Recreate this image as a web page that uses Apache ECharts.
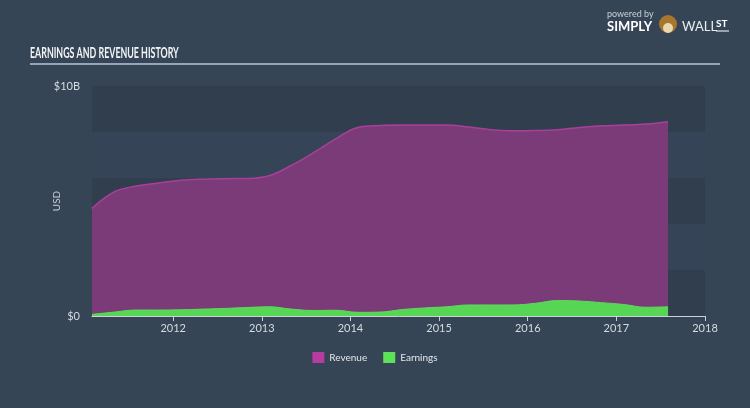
<!DOCTYPE html>
<html>
<head>
<meta charset="utf-8">
<script src="https://cdn.jsdelivr.net/npm/echarts@6/dist/echarts.min.js"></script>
<style>
html,body{margin:0;padding:0;background:#354556;}
#c{width:750px;height:408px;}
</style>
</head>
<body>
<div id="c"></div>
<script>
// Period ends (quarterly), values in USD billions
const periods = ['2011-01','2011-04','2011-07','2011-10','2012-01','2012-04','2012-07','2012-10',
  '2013-01','2013-04','2013-07','2013-10','2014-01','2014-04','2014-07','2014-10',
  '2015-01','2015-04','2015-07','2015-10','2016-01','2016-04','2016-07','2016-10',
  '2017-01','2017-04','2017-07'];
const revenue = [4.68,5.4,5.65,5.78,5.9,5.95,5.97,5.98,
  6.1,6.55,7.1,7.7,8.2,8.28,8.3,8.3,
  8.3,8.22,8.1,8.05,8.06,8.1,8.2,8.27,
  8.3,8.35,8.45];
const earnings = [0.07,0.17,0.26,0.26,0.27,0.3,0.33,0.37,
  0.4,0.3,0.24,0.25,0.16,0.17,0.28,0.35,
  0.4,0.48,0.48,0.48,0.55,0.67,0.65,0.58,
  0.5,0.38,0.4];
const yearTicks = [2012,2013,2014,2015,2016,2017,2018];
const yTickLabels = {0:'$0', 10:'$10B'};
const seriesNames = ['Revenue','Earnings'];

function toYear(p){const [y,m]=p.split('-').map(Number);return y+m/12;}
const xs = periods.map(toYear);
const revData = xs.map((x,i)=>[x,revenue[i]]);
const earnData = xs.map((x,i)=>[x,earnings[i]]);

const chart = echarts.init(document.getElementById('c'), null, {renderer:'canvas'});
chart.setOption({
  backgroundColor:'#354556',
  animation:false,
  textStyle:{fontFamily:'Lato, "Open Sans", sans-serif'},
  grid:{left:92,right:45,top:86,bottom:92},
  legend:{
    data:seriesNames, bottom:40, left:'center', itemWidth:12, itemHeight:11, itemGap:16,
    icon:'rect',
    textStyle:{color:'#e2e7ec',fontSize:10}
  },
  xAxis:{
    type:'value', min:xs[0], max:2018,
    splitLine:{show:false},
    axisLine:{lineStyle:{color:'#c9d1d9',width:1}},
    axisTick:{show:true,customValues:yearTicks,length:5,lineStyle:{color:'#c9d1d9'}},
    axisLabel:{customValues:yearTicks,color:'#d5dbe0',fontSize:11,margin:7,formatter:v=>String(Math.round(v))}
  },
  yAxis:{
    type:'value', min:0, max:10, interval:2,
    name:'USD', nameLocation:'middle', nameGap:30, nameRotate:90, nameMoveOverlap:false,
    nameTextStyle:{color:'#c8d0d8',fontSize:10},
    axisLine:{show:false}, axisTick:{show:false},
    splitLine:{show:false},
    splitArea:{show:true,areaStyle:{color:['#303e4e','#354557']}},
    axisLabel:{color:'#d5dbe0',fontSize:11,margin:12,formatter:v=>yTickLabels[v]||''}
  },
  series:[
    {name:seriesNames[0],type:'line',data:revData,smooth:0.4,symbol:'none',
     lineStyle:{color:'#a8409a',width:1.5},itemStyle:{color:'#b83c9f'},
     areaStyle:{color:'#7b3a78',opacity:1}},
    {name:seriesNames[1],type:'line',data:earnData,smooth:0.4,symbol:'none',
     lineStyle:{color:'#5cdc58',width:1},itemStyle:{color:'#5ee05b'},
     areaStyle:{color:'#57d655',opacity:1}}
  ],
  graphic:[
    {type:'text',x:30,y:46,scaleX:0.59,style:{text:'EARNINGS AND REVENUE HISTORY',fill:'#f2f4f6',
      font:'bold 15px Lato, sans-serif'}},
    {type:'line',shape:{x1:30,y1:64,x2:720,y2:64},style:{stroke:'#b5c7d8',lineWidth:1.5}},
    {type:'text',left:607,top:10,style:{text:'powered by',fill:'#c9d0d8',font:'9px Lato, sans-serif'}},
    {type:'text',left:607,top:20,style:{text:'SIMPLY',fill:'#ffffff',font:'bold 13px Lato, sans-serif'}},
    {type:'circle',shape:{cx:668,cy:24,r:9},style:{fill:'#a8772e'}},
    {type:'circle',shape:{cx:668,cy:28,r:5},style:{fill:'#e9d8b0'}},
    {type:'text',left:682,top:20,style:{text:'WALL',fill:'#e8ecef',font:'13px Lato, sans-serif'}},
    {type:'text',left:716,top:19,style:{text:'ST',fill:'#ffffff',font:'bold 10px Lato, sans-serif'}},
    {type:'line',shape:{x1:716,y1:31,x2:729,y2:31},style:{stroke:'#ffffff',lineWidth:1}}
  ]
});
</script>
</body>
</html>
